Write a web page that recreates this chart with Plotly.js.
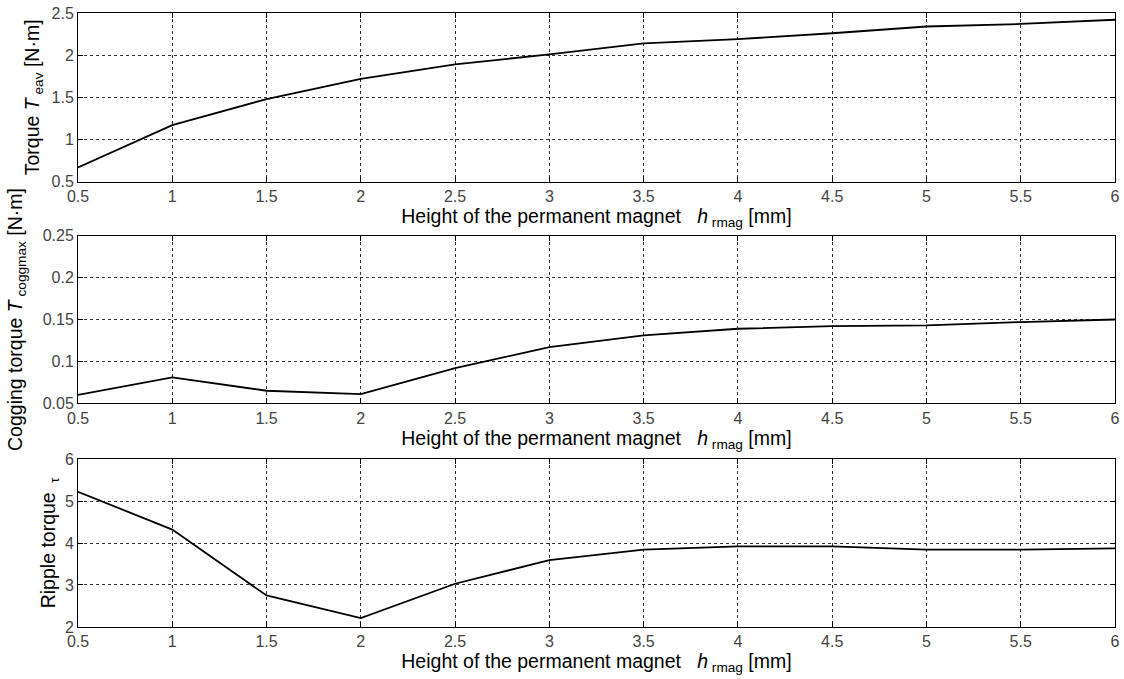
<!DOCTYPE html>
<html>
<head>
<meta charset="utf-8">
<script src="https://cdn.plot.ly/plotly-3.0.1.min.js"></script>
<style>html,body{margin:0;padding:0;background:#fff;}#chart{width:1124px;height:679px;}</style>
</head>
<body>
<div id="chart"></div>
<script>
// Data
const magnetHeight = [0.5, 1, 1.5, 2, 2.5, 3, 3.5, 4, 4.5, 5, 5.5, 6];
const torqueAvg    = [0.67, 1.17, 1.48, 1.72, 1.89, 2.01, 2.14, 2.19, 2.26, 2.34, 2.37, 2.42];
const coggingMax   = [0.060, 0.081, 0.065, 0.061, 0.092, 0.117, 0.131, 0.139, 0.142, 0.143, 0.147, 0.150];
const rippleTorque = [5.22, 4.32, 2.75, 2.21, 3.03, 3.59, 3.84, 3.92, 3.92, 3.84, 3.84, 3.87];

const xTicks = [0.5, 1, 1.5, 2, 2.5, 3, 3.5, 4, 4.5, 5, 5.5, 6];
const xTickText = ['0.5', '1', '1.5', '2', '2.5', '3', '3.5', '4', '4.5', '5', '5.5', '6'];
const y1Ticks = [0.5, 1, 1.5, 2, 2.5];
const y1TickText = ['0.5', '1', '1.5', '2', '2.5'];
const y2Ticks = [0.05, 0.1, 0.15, 0.2, 0.25];
const y2TickText = ['0.05', '0.1', '0.15', '0.2', '0.25'];
const y3Ticks = [2, 3, 4, 5, 6];
const y3TickText = ['2', '3', '4', '5', '6'];

const xTitleText = 'Height of the permanent magnet   <i>h</i><sub> rmag</sub> [mm]';
const y1TitleText = 'Torque <i>T</i><sub> eav</sub> [N·m]';
const y2TitleText = 'Cogging torque <i>T</i><sub> coggmax</sub> [N·m]';
const y3TitleText = 'Ripple torque <sub> τ</sub>';

const FONT = 'Liberation Sans, Arial, Helvetica, sans-serif';
const lineStyle = {color: '#000', width: 1.8};

const traces = [
  {x: magnetHeight, y: torqueAvg, xaxis: 'x', yaxis: 'y', mode: 'lines', line: lineStyle, showlegend: false},
  {x: magnetHeight, y: coggingMax, xaxis: 'x2', yaxis: 'y2', mode: 'lines', line: lineStyle, showlegend: false},
  {x: magnetHeight, y: rippleTorque, xaxis: 'x3', yaxis: 'y3', mode: 'lines', line: lineStyle, showlegend: false}
];

function xAxis(anchor) {
  return {
    anchor: anchor, domain: [0, 1], range: [0.5, 6],
    tickmode: 'array', tickvals: xTicks, ticktext: xTickText,
    ticks: 'inside', ticklen: 5, tickcolor: '#000', tickwidth: 1,
    showline: true, linecolor: '#000', linewidth: 1, mirror: 'ticks',
    showgrid: true, gridcolor: '#333', gridwidth: 1, griddash: '3px,3px',
    zeroline: false,
    tickfont: {family: FONT, size: 16, color: '#444'},
    title: {text: xTitleText, font: {family: FONT, size: 19.5, color: '#000'}, standoff: 4},
    automargin: false
  };
}
function yAxis(anchor, domain, range, tv, tt, title, standoff) {
  return {
    anchor: anchor, domain: domain, range: range,
    tickmode: 'array', tickvals: tv, ticktext: tt,
    ticks: 'inside', ticklen: 5, tickcolor: '#000', tickwidth: 1,
    showline: true, linecolor: '#000', linewidth: 1, mirror: 'ticks',
    showgrid: true, gridcolor: '#333', gridwidth: 1, griddash: '3px,3px',
    zeroline: false,
    tickfont: {family: FONT, size: 16, color: '#444'},
    title: {text: title, font: {family: FONT, size: 19.5, color: '#000'}, standoff: standoff},
    automargin: false
  };
}

const layout = {
  width: 1124, height: 679,
  margin: {l: 78, r: 9, t: 13, b: 52},
  paper_bgcolor: '#fff', plot_bgcolor: '#fff',
  font: {family: FONT, color: '#000'},
  showlegend: false,
  xaxis: xAxis('y'),
  yaxis: yAxis('x', [0.7252, 1], [0.5, 2.5], y1Ticks, y1TickText, y1TitleText, 6),
  xaxis2: xAxis('y2'),
  yaxis2: yAxis('x2', [0.3643, 0.6373], [0.05, 0.25], y2Ticks, y2TickText, y2TitleText, 14),
  xaxis3: xAxis('y3'),
  yaxis3: yAxis('x3', [0, 0.2736], [2, 6], y3Ticks, y3TickText, y3TitleText, 4)
};

Plotly.newPlot('chart', traces, layout, {displayModeBar: false, staticPlot: true});
</script>
</body>
</html>
